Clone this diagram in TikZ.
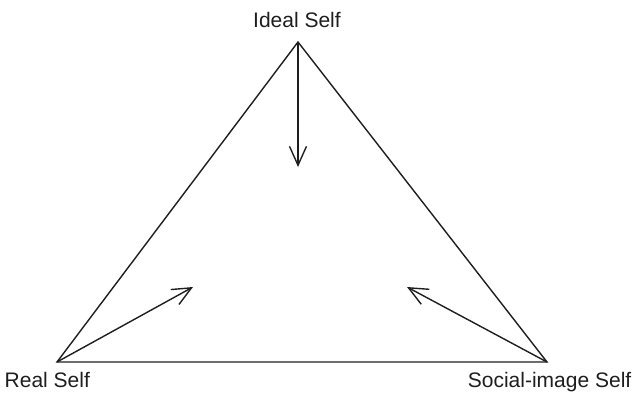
\documentclass[tikz,border=0pt]{standalone}
\usepackage{fontspec}
\setmainfont{Liberation Sans}
\usepackage{tikz}
\usetikzlibrary{positioning, arrows.meta}
\definecolor{inkline}{RGB}{30, 30, 30}

\begin{document}
\begin{tikzpicture}[x=1pt, y=-1pt, line width=1.4pt, inkline,
  pull/.style={-{Straight Barb[length=19pt, width=17pt]}},
  selflabel/.style={font=\fontsize{21}{24}\selectfont, inner sep=0pt}]
\useasboundingbox (0,0) rectangle (633,392);
% corners of the triangle
\coordinate (ideal) at (298,42);
\coordinate (real) at (57,362);
\coordinate (social) at (547,362);
\draw[line join=miter] (ideal) -- (real) -- (social) -- cycle;
% labels
\node[selflabel, anchor=base] (idealtxt) at (297,27) {Ideal Self};
\node[selflabel, anchor=base west] (realtxt) at (4,387) {Real Self};
\node[selflabel, anchor=base east] (socialtxt) at (632,387) {Social-image Self};
% arrows into the middle
\coordinate (idealend) at (298,167);
\coordinate (realend) at (193,287);
\coordinate (socialend) at (407,287);
\draw[pull] (ideal) -- (idealend);
\draw[pull] (real) -- (realend);
\draw[pull] (social) -- (socialend);
\end{tikzpicture}
\end{document}
